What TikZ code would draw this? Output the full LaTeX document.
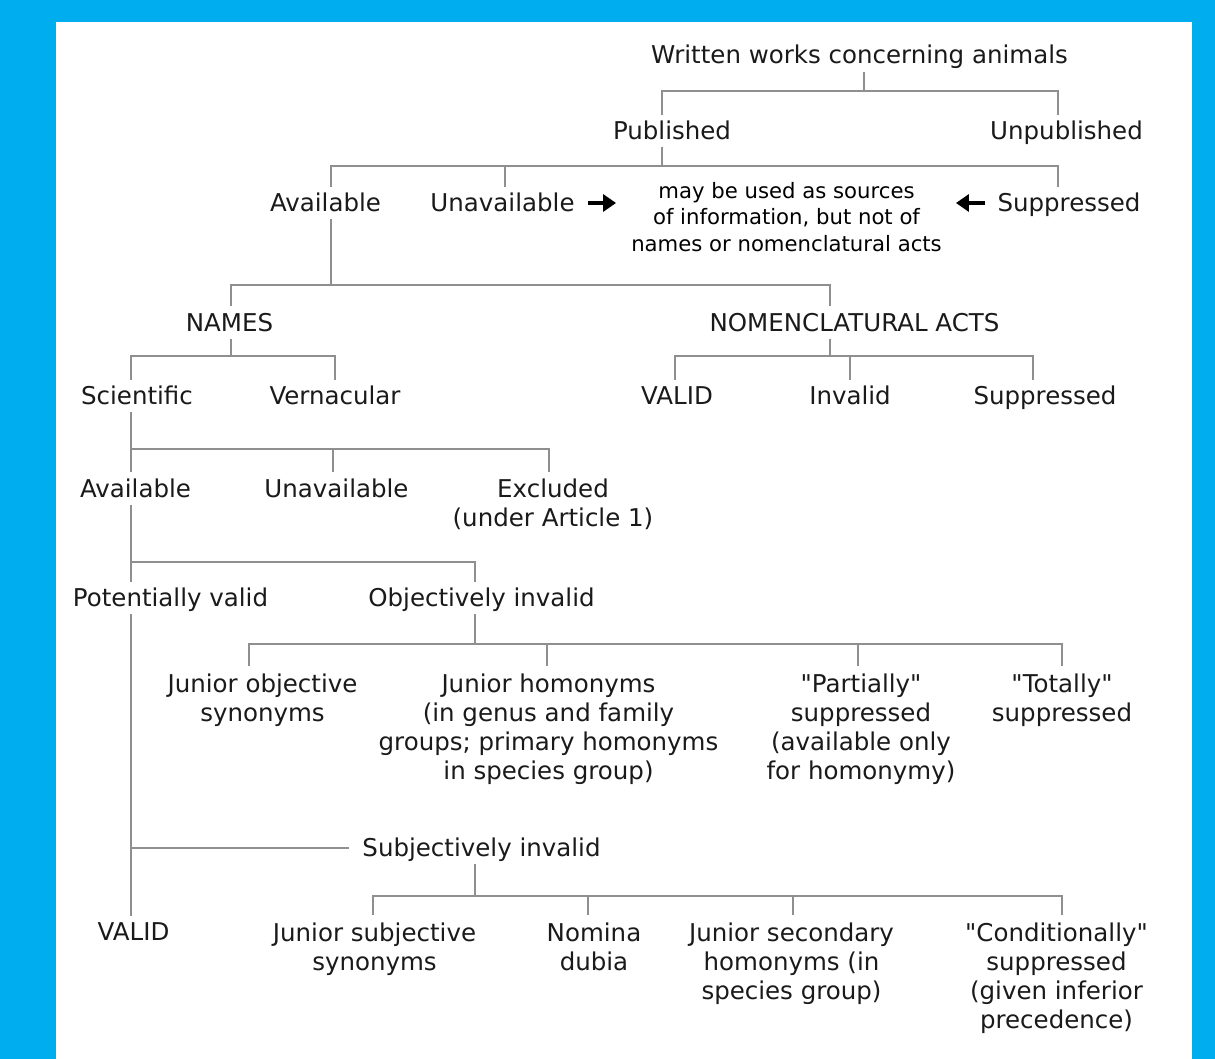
\documentclass[tikz,border=0pt]{standalone}
\usepackage{fontspec}
\usetikzlibrary{arrows.meta}
\newfontfamily\dvsans{DejaVu Sans}
\newcommand\mainfnt{\dvsans\fontsize{24.5pt}{29pt}\selectfont}
\newcommand\smallfnt{\dvsans\fontsize{21.2pt}{26.5pt}\selectfont}
\definecolor{bgblue}{HTML}{00AEEF}
\definecolor{linegray}{HTML}{8F8F8F}
\definecolor{txt}{HTML}{1A1A1A}
\tikzset{
  lbl/.style={inner xsep=0pt, inner ysep=7.5pt, text height=17pt, text depth=0pt, anchor=base, font=\mainfnt, text=txt},
  mlbl/.style={inner xsep=0pt, inner ysep=7.5pt, align=center, anchor=north, font=\mainfnt, text=txt},
  ln/.style={draw=linegray, line width=2.4pt},
  arr/.style={-{Triangle[length=13pt,width=17pt]}, line width=3.5pt, draw=black}
}
\begin{document}
\begin{tikzpicture}[x=1pt,y=-1pt]
\useasboundingbox (0,0) rectangle (1215,1059);
\fill[bgblue] (0,0) rectangle (1215,1059);
\fill[white] (56,22) rectangle (1192,1059);

% nodes
\node[lbl] (written) at (859.5,64) {Written works concerning animals};
\node[lbl] (pub) at (672,139.5) {Published};
\node[lbl] (unpub) at (1066.5,139.5) {Unpublished};
\node[lbl] (av1) at (325.5,211.5) {Available};
\node[lbl] (unav1) at (502.5,211.5) {Unavailable};
\node[inner sep=0pt, align=center, anchor=north, font=\smallfnt, text=black] (info) at (786.5,182) {may be used as sources\\of information, but not of\\names or nomenclatural acts};
\node[lbl] (sup1) at (1069,211.5) {Suppressed};
\node[lbl] (names) at (229.5,331) {NAMES};
\node[lbl] (nomacts) at (854.5,331) {NOMENCLATURAL ACTS};
\node[lbl] (sci) at (137,404.5) {Scientific};
\node[lbl] (vern) at (335,404.5) {Vernacular};
\node[lbl] (valid1) at (677,404.5) {VALID};
\node[lbl] (inval) at (850,404.5) {Invalid};
\node[lbl] (sup2) at (1045,404.5) {Suppressed};
\node[lbl] (av2) at (135.5,497) {Available};
\node[lbl] (unav2) at (336.5,497) {Unavailable};
\node[mlbl] (excl) at (553,471.5) {Excluded\\(under Article 1)};
\node[lbl] (potval) at (170.5,606.5) {Potentially valid};
\node[lbl] (objinv) at (481.5,606.5) {Objectively invalid};
\node[mlbl] (jos) at (262.5,666) {Junior objective\\synonyms};
\node[mlbl] (jh) at (548.5,666) {Junior homonyms\\(in genus and family\\groups; primary homonyms\\in species group)};
\node[mlbl] (partial) at (861,666) {"Partially"\\suppressed\\(available only\\for homonymy)};
\node[mlbl] (totally) at (1062,666) {"Totally"\\suppressed};
\node[lbl] (subj) at (481.5,856.5) {Subjectively invalid};
\node[lbl] (valid2) at (133.5,940.5) {VALID};
\node[mlbl] (jss) at (374.5,915) {Junior subjective\\synonyms};
\node[mlbl] (nd) at (594,915) {Nomina\\dubia};
\node[mlbl] (jsh) at (791.5,915) {Junior secondary\\homonyms (in\\species group)};
\node[mlbl] (cond) at (1056.5,915) {"Conditionally"\\suppressed\\(given inferior\\precedence)};

% connectors
\draw[ln] (written.south -| 864,0) -- (864,91);
\draw[ln] (864,91) -| (pub.north -| 662,0);
\draw[ln] (864,91) -| (unpub.north -| 1058,0);

\draw[ln] (pub.south -| 662,0) -- (662,166);
\draw[ln] (662,166) -| (av1.north -| 331,0);
\draw[ln] (662,166) -| (sup1.north -| 1058,0);
\draw[ln] (unav1.north -| 505,0) -- (505,166);

\draw[arr, shorten <=13pt, shorten >=15pt] (unav1.east) -- (unav1.east -| info.west);
\draw[arr, shorten <=12pt, shorten >=14pt] (sup1.west) -- (sup1.west -| info.east);

\draw[ln] (av1.south -| 331,0) -- (331,285);
\draw[ln] (331,285) -| (names.north -| 231,0);
\draw[ln] (331,285) -| (nomacts.north -| 830,0);

\draw[ln] (names.south -| 231,0) -- (231,356);
\draw[ln] (231,356) -| (sci.north -| 131,0);
\draw[ln] (231,356) -| (vern.north -| 335,0);

\draw[ln] (nomacts.south -| 830,0) -- (830,356);
\draw[ln] (830,356) -| (valid1.north -| 675,0);
\draw[ln] (830,356) -| (sup2.north -| 1033,0);
\draw[ln] (inval.north -| 850,0) -- (850,356);

\draw[ln] (sci.south -| 131,0) -- (av2.north -| 131,0);
\draw[ln] (131,449) -| (excl.north -| 549,0);
\draw[ln] (unav2.north -| 333,0) -- (333,449);

\draw[ln] (av2.south -| 131,0) -- (potval.north -| 131,0);
\draw[ln] (131,562) -| (objinv.north -| 475,0);

\draw[ln] (potval.south -| 131,0) -- (valid2.north -| 131,0);
\draw[ln] (subj.west -| 131,0) -- ([xshift=-13pt]subj.west);

\draw[ln] (objinv.south -| 475,0) -- (475,644);
\draw[ln] (475,644) -| (jos.north -| 249,0);
\draw[ln] (475,644) -| (totally.north -| 1062,0);
\draw[ln] (jh.north -| 547,0) -- (547,644);
\draw[ln] (partial.north -| 858,0) -- (858,644);

\draw[ln] (subj.south -| 475,0) -- (475,896);
\draw[ln] (475,896) -| (jss.north -| 373,0);
\draw[ln] (475,896) -| (cond.north -| 1062,0);
\draw[ln] (nd.north -| 588,0) -- (588,896);
\draw[ln] (jsh.north -| 793,0) -- (793,896);
\end{tikzpicture}
\end{document}
